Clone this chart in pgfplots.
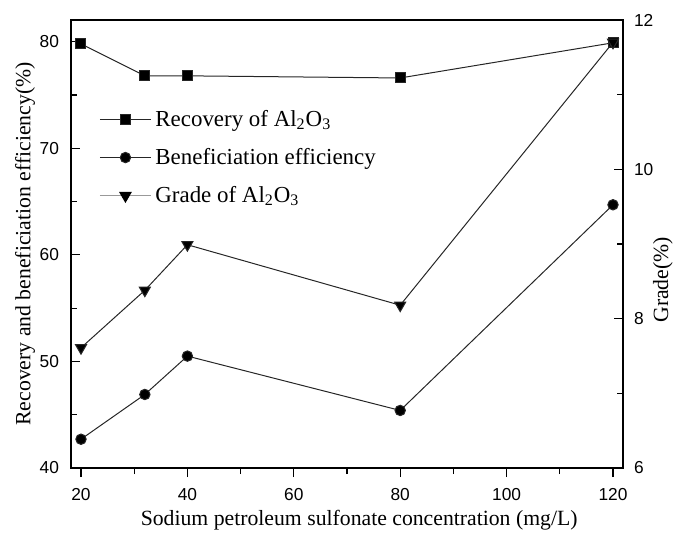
\documentclass[border=0pt]{standalone}
\usepackage{pgfplots}
\pgfplotsset{compat=1.18}
\usepackage{fontspec}
\setmainfont{Liberation Serif}
\setsansfont{Liberation Sans}
\begin{document}
\begin{tikzpicture}
\pgfplotsset{
  base/.style={
    scale only axis, width=276bp, height=224bp,
    xmin=18.12, xmax=121.88,
    /pgf/number format/assume math mode=true,
    tick label style={font=\sffamily\fontsize{8.7}{10}\selectfont, black},
    label style={font=\fontsize{10.9}{13}\selectfont},
    major tick length=4.5bp, minor tick length=3bp,
    every tick/.style={black, line width=0.6bp},
    axis line style={line width=0.8bp},
  },
  ser/.style={color=black!85, line width=0.5bp},
}
\begin{axis}[base, name=ax,
  ymin=40, ymax=82.04,
  xtick={20,40,60,80,100,120}, minor x tick num=1,
  ytick={40,50,60,70,80}, minor y tick num=1,
  xtick pos=bottom, ytick pos=left,
  xtick align=outside, ytick align=inside,
  xticklabel style={yshift=-2bp},
  yticklabel style={xshift=-2.5bp},
  xlabel={Sodium petroleum sulfonate concentration (mg/L)},
  ylabel={Recovery and beneficiation efficiency(\%)},
  xlabel style={at={(axis description cs:0.522,0)}, anchor=center, yshift=-26bp},
  ylabel style={at={(axis description cs:-0.0833,0.5)}, anchor=center},
  legend image code/.code={\draw[#1, mark repeat=2, mark phase=2] plot coordinates {(0bp,0bp) (12.75bp,0bp) (25.5bp,0bp)};},
  legend style={draw=none, fill=none, at={(0.04,0.818)}, anchor=north west, font=\fontsize{11.5}{13}\selectfont, row sep=5.5bp},
  legend cell align=left,
]
\addplot[ser, mark=square*, mark size=2.5bp, mark options={solid, fill=black}] coordinates {(20,79.8) (32,76.8) (40,76.8) (80,76.6) (120,79.9)};
\addlegendentry{Recovery of Al\textsubscript{2}O\textsubscript{3}}
\addplot[ser, mark=*, mark size=2.6bp, mark options={solid, fill=black}] coordinates {(20,42.7) (32,46.9) (40,50.5) (80,45.4) (120,64.7)};
\addlegendentry{Beneficiation efficiency}
\addlegendimage{black!40, line width=0.5bp, mark=triangle*, mark size=3.2bp, mark options={solid, fill=black, draw=black, rotate=180}}
\addlegendentry{Grade of Al\textsubscript{2}O\textsubscript{3}}
\end{axis}
\begin{axis}[base,
  ymin=6, ymax=12, axis x line=none, axis y line*=right,
  ytick={6,8,10,12}, minor y tick num=1, ytick align=inside,
  yticklabel style={xshift=2bp},
  ylabel={Grade(\%)},
  ylabel style={at={(axis description cs:1.0725,0.42)}, anchor=center},
]
\addplot[ser, mark=triangle*, mark size=3.2bp, mark options={solid, fill=black, rotate=180}] coordinates {(20,7.61) (32,8.38) (40,8.99) (80,8.18) (120,11.7)};
\end{axis}
\pgfresetboundingbox
\path ([shift={(-35.5bp,-33bp)}]ax.south west) rectangle ([shift={(26bp,10bp)}]ax.north east);
\end{tikzpicture}
\end{document}
